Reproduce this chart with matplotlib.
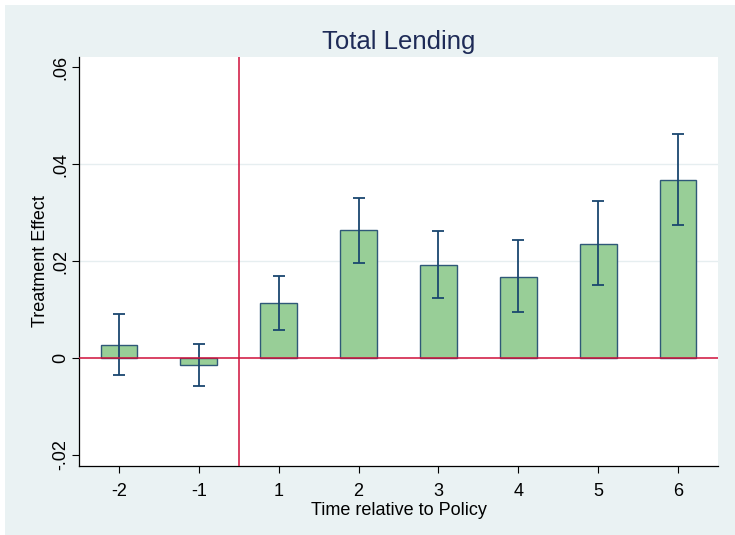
import matplotlib
matplotlib.use("Agg")
import matplotlib.pyplot as plt
from matplotlib.patches import Rectangle
import numpy as np

plt.rcParams['font.family'] = ['Liberation Sans', 'DejaVu Sans']

# Event-study estimates relative to the policy
periods = ["-2", "-1", "1", "2", "3", "4", "5", "6"]
effect = [0.0027, -0.0015, 0.0114, 0.0263, 0.0192, 0.0168, 0.0236, 0.0368]
ci_low = [-0.0036, -0.0057, 0.0058, 0.0196, 0.0123, 0.0094, 0.0150, 0.0275]
ci_high = [0.0090, 0.0028, 0.0170, 0.0330, 0.0262, 0.0243, 0.0324, 0.0462]
y_ticks = [-0.02, 0.0, 0.02, 0.04, 0.06]
y_tick_labels = ["-.02", "0", ".02", ".04", ".06"]

W, H = 735, 535
fig = plt.figure(figsize=(W / 100, H / 100), dpi=100, facecolor="white")

# graph region background
fig.patches.append(Rectangle((5 / W, 0), 1, 1 - 5 / H, transform=fig.transFigure,
                             facecolor="#EAF2F3", edgecolor="none", zorder=-10))

ax = fig.add_axes([79 / W, 1 - 466 / H, (718 - 79) / W, (466 - 57) / H])
ax.set_facecolor("white")

x = np.arange(len(periods))
eff = np.array(effect)
lo = np.array(ci_low)
hi = np.array(ci_high)

navy = "#1A476F"
red = "#D0103A"

ax.bar(x, eff, width=0.46, color="#98CE97", edgecolor="#2F5878", linewidth=1.0, zorder=3)
ax.errorbar(x, eff, yerr=[eff - lo, hi - eff], fmt="none", ecolor=navy,
            elinewidth=1.3, capsize=4.5, capthick=1.3, zorder=4)

ax.axhline(0, color=red, lw=1.1, zorder=5)
ax.axvline(1.5, color=red, lw=1.1, zorder=5)

for g in [0.02, 0.04]:
    ax.axhline(g, color="#E6EEF0", lw=1.0, zorder=1)

ax.set_xlim(-0.5, 7.5)
ax.set_ylim(-0.0223, 0.0621)
ax.set_xticks(x)
ax.set_xticklabels(periods, fontsize=13)
ax.set_yticks(y_ticks)
ax.set_yticklabels(y_tick_labels, fontsize=13, rotation=90, va="center")

for side in ["top", "right"]:
    ax.spines[side].set_visible(False)
for side in ["left", "bottom"]:
    ax.spines[side].set_color("black")
    ax.spines[side].set_linewidth(0.9)

ax.tick_params(axis="both", direction="out", length=5, width=0.8, color="black")
ax.tick_params(axis="x", pad=7)
ax.tick_params(axis="y", pad=2)

ax.set_xlabel("Time relative to Policy", fontsize=13, labelpad=2)
ax.set_ylabel("Treatment Effect", fontsize=13, labelpad=2)
ax.set_title("Total Lending", fontsize=18.5, color="#1E2B57", pad=6)

fig.savefig("out.png", dpi=100, facecolor=fig.get_facecolor())
